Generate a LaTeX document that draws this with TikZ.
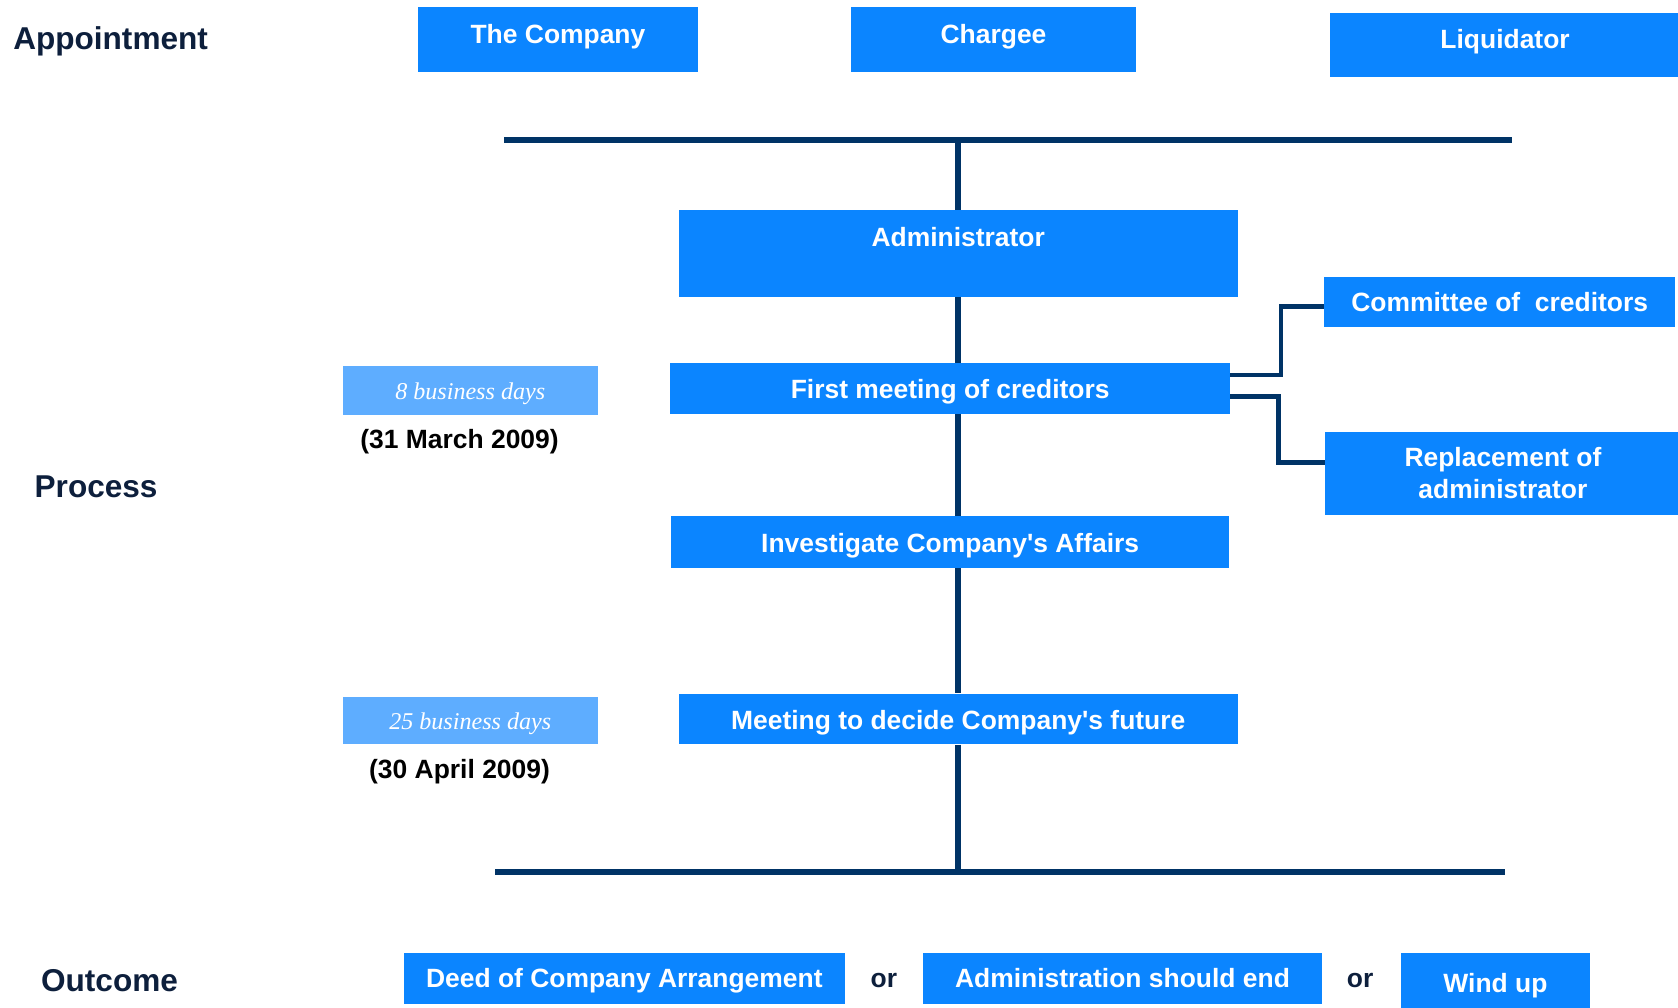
\documentclass[tikz,border=0pt]{standalone}
\usepackage{fontspec}
\setmainfont{Liberation Sans}
\newfontfamily\serifit{Liberation Serif}
\usetikzlibrary{calc}
\definecolor{boxblue}{RGB}{11,133,255}
\definecolor{lightblue}{RGB}{94,173,255}
\definecolor{linenavy}{RGB}{0,51,102}
\definecolor{headnavy}{RGB}{13,31,60}

\begin{document}
\begin{tikzpicture}[x=0.5pt, y=-0.5pt]
    % filled blue boxes
    \tikzstyle{box}=[inner sep=0, anchor=north west, fill=boxblue, text=white, font=\bfseries\fontsize{12.35}{15}\selectfont]
    % light boxes with the time limits
    \tikzstyle{days}=[inner sep=0, anchor=north west, fill=lightblue, text=white, font=\serifit\itshape\fontsize{11.25}{13}\selectfont]
    % row titles on the left
    \tikzstyle{head}=[inner sep=0, anchor=base west, text=headnavy, font=\bfseries\fontsize{14.75}{17}\selectfont]
    \tikzstyle{date}=[inner sep=0, anchor=base, font=\bfseries\fontsize{12.35}{15}\selectfont]
    \tikzstyle{bar}=[line width=2.7pt, draw=linenavy]
    \tikzstyle{conn}=[line width=2.1pt, draw=linenavy]

    \useasboundingbox (0,0) rectangle (1568,941);

    % Appointment row
    \node[head] (appoint) at (12,46.6) {Appointment};
    \node[box, minimum width=131pt, text height=16.95pt, text depth=13.55pt] (company) at (390,6) {The Company};
    \node[box, minimum width=133pt, text height=16.95pt, text depth=13.55pt] (chargee) at (795,6) {Chargee};
    \node[box, minimum width=164pt, text height=16.45pt, text depth=13.55pt] (liquidator) at (1242,12) {Liquidator};
    \coordinate (topL) at (471,131);
    \coordinate (topR) at (1413,131);
    \draw[bar] (topL) -- (topR);

    % Process column
    \node[head] (process) at (32,464.6) {Process};
    \node[box, minimum width=261pt, text height=16.95pt, text depth=23.55pt] (admin) at (634,196) {Administrator};
    \node[box, minimum width=261.5pt, text height=16.45pt, text depth=7.05pt] (first) at (626,339) {First meeting of creditors};
    \node[box, minimum width=260.5pt, text height=16.95pt, text depth=7.05pt] (invest) at (627,482) {Investigate Company\textquotesingle s Affairs};
    \node[box, minimum width=261pt, text height=16.45pt, text depth=7.05pt] (decide) at (634,648) {Meeting to decide Company\textquotesingle s future};
    \draw[bar] (admin.north |- topL) -- (admin.north);
    \draw[bar] (admin.south) -- (admin.south |- first.north);
    \draw[bar] (admin.south |- first.south) -- (admin.south |- invest.north);
    \draw[bar] (admin.south |- invest.south) -- (decide.north);

    % time limits
    \node[days, minimum width=119pt, text height=15.5pt, text depth=7pt] (days8) at (320,342) {8 business days};
    \node[date] (date8) at ($(days8.south)+(-10,31)$) {(31 March 2009)};
    \node[days, minimum width=119pt, text height=15pt, text depth=7pt] (days25) at (320,651) {25 business days};
    \node[date] (date25) at ($(days25.south)+(-10,32)$) {(30 April 2009)};

    % side branches of the first meeting
    \node[box, minimum width=164pt, text height=16.45pt, text depth=7.05pt] (committee) at (1237,258) {Committee of~ creditors};
    \node[box, minimum width=166pt, minimum height=39pt, align=center] (replace) at (1238,403) {Replacement of\\administrator};
    \draw[conn] ($(first.east)+(0,-12.5)$) -- ++(47,0) |- ($(committee.west)+(0,4.5)$);
    \draw[conn] ($(first.east)+(0,7.5)$) -- ++(45,0) |- ($(replace.west)+(0,-10)$);

    \coordinate (botL) at (463,815);
    \coordinate (botR) at (1406,815);
    \draw[bar] (decide.south) -- (decide.south |- botL);
    \draw[bar] (botL) -- (botR);

    % Outcome row
    \node[head] (outcome) at (38,926.6) {Outcome};
    \node[box, minimum width=206pt, text height=16.25pt, text depth=7.75pt] (deed) at (377,890) {Deed of Company Arrangement};
    \node[date, text=headnavy] (or1) at (826,922.5) {or};
    \node[box, minimum width=186.5pt, text height=16.25pt, text depth=7.75pt] (adminend) at (862,890) {Administration should end};
    \node[date, text=headnavy] (or2) at (1271,922.5) {or};
    \node[box, minimum width=88pt, text height=18.5pt, text depth=9pt] (windup) at (1309,890) {Wind up};
\end{tikzpicture}
\end{document}
